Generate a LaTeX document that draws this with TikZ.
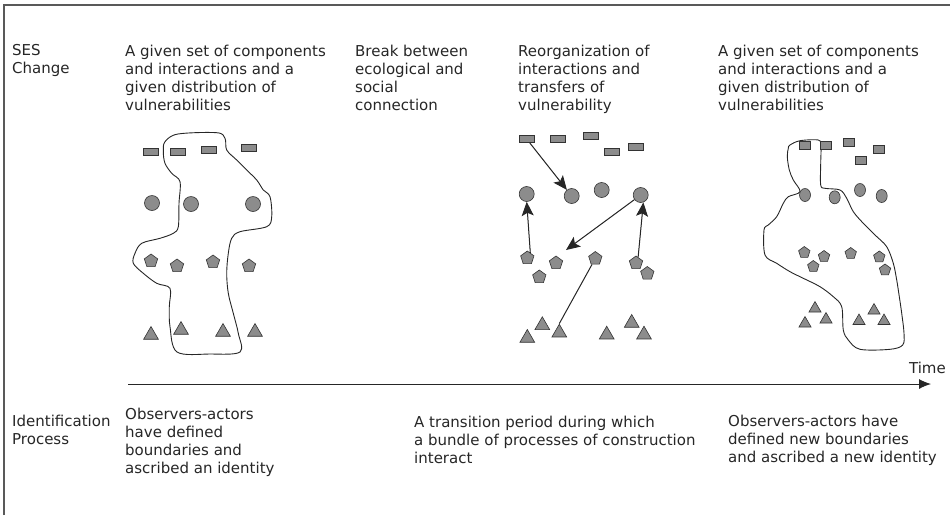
\documentclass[tikz,border=0pt]{standalone}
\usepackage{fontspec}
\setmainfont{DejaVu Sans}
\usepackage{xcolor}
\usepackage{tikz}
\usetikzlibrary{shapes.geometric,arrows.meta,positioning}
\definecolor{shapefill}{gray}{0.55}
\definecolor{shapeline}{gray}{0.2}
\definecolor{framegray}{gray}{0.35}

\begin{document}
\begin{tikzpicture}[x=1pt, y=-1pt,
    txt/.style={anchor=north west, align=left, inner sep=0pt, text=black!85, font=\fontsize{15}{18}\selectfont, execute at begin node=\strut},
    bar/.style={rectangle, draw=shapeline, fill=shapefill, line width=0.6pt, minimum width=15pt, minimum height=7pt, inner sep=0pt},
    sqr/.style={bar, minimum width=11pt, minimum height=8pt},
    dot/.style={circle, draw=shapeline, fill=shapefill, line width=0.6pt, minimum size=15pt, inner sep=0pt},
    oval/.style={ellipse, draw=shapeline, fill=shapefill, line width=0.6pt, minimum width=11pt, minimum height=13pt, inner sep=0pt},
    penta/.style={regular polygon, regular polygon sides=5, draw=shapeline, fill=shapefill, line width=0.6pt, minimum size=14pt, inner sep=0pt},
    tri/.style={regular polygon, regular polygon sides=3, draw=shapeline, fill=shapefill, line width=0.6pt, minimum size=17pt, inner sep=0pt},
    blob/.style={draw=black!85, line width=0.9pt},
    arrow/.style={-{Stealth[length=14pt, width=12pt, inset=3pt]}, line width=1pt, draw=black!85, fill=black!85},
    link/.style={line width=1pt, draw=black!85},
    axis/.style={-{Latex[length=12pt, width=10pt]}, line width=1pt, draw=black!85}
]
\useasboundingbox (0,0) rectangle (950,515);

% Frame
\draw[framegray, line width=2pt] (4,515) -- (4,5) -- (950,5);

% Row labels
\node[txt] (ses) at (12,44.4) {SES\\Change};
\node[txt] (idproc) at (12,414.4) {Identification\\Process};

% Column headings
\node[txt] (head1) at (125,44.4) {A given set of components\\and interactions and a\\given distribution of\\vulnerabilities};
\node[txt] (head2) at (355,44.4) {Break between\\ecological and\\social\\connection};
\node[txt] (head3) at (518,44.4) {Reorganization of\\interactions and\\transfers of\\vulnerability};
\node[txt] (head4) at (718,44.4) {A given set of components\\and interactions and a\\given distribution of\\vulnerabilities};

% First system
\draw[blob] plot[smooth cycle, tension=0.55] coordinates {
  (178,134) (216.7,132.7) (225,138.3) (226.7,150) (236.7,160) (246.7,170)
  (256.7,180) (263.3,190) (270,196.7) (271.7,216.7) (266.7,226.7) (240,231.7)
  (231.7,238.3) (228.3,253.3) (226.7,273.3) (228.3,293.3) (233.3,313.3)
  (238.3,333.3) (240,352) (210,354) (177,352) (170,326.7) (169.3,306.7)
  (170,288.3) (156.7,283.3) (143.3,273.3) (133.3,263.3) (135,253.3)
  (141.7,243.3) (160,238.3) (173.3,233.3) (178.3,226.7) (179,203.3)
  (180,181.7) (171.7,173.3) (165,163.3) (163.3,151.7) (165,141.7)};

\node[bar] (r11) at (151,152) {};
\node[bar] (r12) at (178,152) {};
\node[bar] (r13) at (209,150) {};
\node[bar] (r14) at (249,148) {};

\node[dot] (c11) at (152,203) {};
\node[dot] (c12) at (191,204) {};
\node[dot] (c13) at (253,204) {};

\node[penta] (p11) at (151,261) {};
\node[penta] (p12) at (177,266) {};
\node[penta] (p13) at (213,262) {};
\node[penta] (p14) at (249,266) {};

\node[tri] (t11) at (151,335) {};
\node[tri] (t12) at (181,330) {};
\node[tri] (t13) at (223,332) {};
\node[tri] (t14) at (255,332) {};

% Reorganizing system
\node[bar] (r31) at (526.7,139) {};
\node[bar] (r32) at (557.7,139) {};
\node[bar] (r33) at (590.7,135.7) {};
\node[bar] (r34) at (611.7,151.7) {};
\node[bar] (r35) at (636,146.3) {};

\node[dot] (c31) at (526.7,194) {};
\node[dot] (c32) at (571.7,196) {};
\node[dot] (c33) at (601.7,190) {};
\node[dot] (c34) at (640.7,195) {};

\node[penta] (p31) at (527.3,258) {};
\node[penta] (p32) at (556,263) {};
\node[penta] (p33) at (539.3,277) {};
\node[penta] (p34) at (595.3,258.5) {};
\node[penta] (p35) at (636,263) {};
\node[penta] (p36) at (647.3,273.5) {};

\node[tri] (t31) at (527.3,338) {};
\node[tri] (t32) at (542.3,325.3) {};
\node[tri] (t33) at (559.3,332.7) {};
\node[tri] (t34) at (606.7,334.7) {};
\node[tri] (t35) at (631.7,323) {};
\node[tri] (t36) at (644,334.7) {};

\coordinate (tip34) at (566,250);

\draw[arrow] (r31) -- (c32);
\draw[arrow] (p31.60) -- (c31.south);
\draw[arrow] (c34) -- (tip34);
\draw[arrow] (p35.70) -- (c34.-70);
\draw[link] (t33.north) -- (p34);

% New system
\draw[blob] plot[smooth cycle, tension=0.55] coordinates {
  (790,145) (800,140.7) (818.3,140) (821,145) (820.7,163.3) (820.7,185)
  (825,188.3) (840,190) (846.7,198.3) (853.3,211.7) (863.3,223.3) (875,235)
  (886.7,246.7) (893.3,263.3) (896.7,280) (899.3,296.7) (901.7,313.3)
  (904,333.3) (902.7,345) (890,349.3) (860,349.3) (848.3,340) (843.3,330)
  (841.7,306.7) (833.3,296.7) (820,286.7) (803.3,278.3) (790,271.7)
  (776.7,263.3) (765,255) (764,230) (768.3,225) (776.7,216.7) (783.3,203.3)
  (788.3,196.7) (800,191.7) (793.3,180) (789.3,170) (787.3,156.7) (788.3,148.3)};

\node[sqr] (r41) at (805,145) {};
\node[sqr] (r42) at (825.7,145) {};
\node[sqr] (r43) at (848.3,142.7) {};
\node[sqr] (r44) at (879,149.3) {};
\node[sqr] (r45) at (861,160.7) {};

\node[oval] (c41) at (805,195) {};
\node[oval] (c42) at (834.7,197.3) {};
\node[oval] (c43) at (860,190) {};
\node[oval] (c44) at (881.7,196) {};

\node[penta, minimum size=12pt] (p41) at (804.3,252.5) {};
\node[penta, minimum size=12pt] (p42) at (824,256.5) {};
\node[penta, minimum size=12pt] (p43) at (813.3,266.5) {};
\node[penta, minimum size=12pt] (p44) at (850.7,253.5) {};
\node[penta, minimum size=12pt] (p45) at (879.3,257) {};
\node[penta, minimum size=12pt] (p46) at (885,270) {};

\node[tri, minimum size=14pt] (t41) at (815,308.5) {};
\node[tri, minimum size=14pt] (t42) at (805,323.5) {};
\node[tri, minimum size=14pt] (t43) at (826,319.5) {};
\node[tri, minimum size=14pt] (t44) at (859,321) {};
\node[tri, minimum size=14pt] (t45) at (874,310.5) {};
\node[tri, minimum size=14pt] (t46) at (884,321) {};

% Time axis
\coordinate (axstart) at (128,384);
\coordinate (axend) at (931,384);
\draw[axis] (axstart) -- (axend);
\node[txt, anchor=base east, execute at begin node={}] (time) at (946,373) {Time};

% Identification process
\node[txt] (obs1) at (125,407.4) {Observers-actors\\have defined\\boundaries and\\ascribed an identity};
\node[txt] (trans) at (414,415.4) {A transition period during which\\a bundle of processes of construction\\interact};
\node[txt] (obs2) at (728,414.4) {Observers-actors have\\defined new boundaries\\and ascribed a new identity};

\end{tikzpicture}
\end{document}
